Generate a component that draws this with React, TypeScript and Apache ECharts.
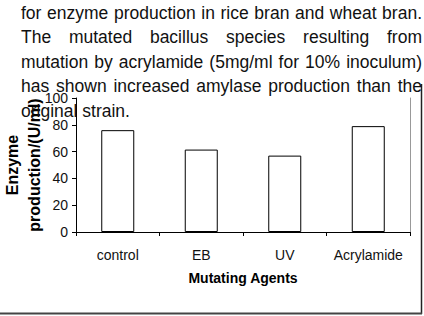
import React, { useEffect, useRef } from "react";
import * as echarts from "echarts";

const paragraphLines = [
  "for enzyme production in rice bran and wheat bran.",
  "The mutated bacillus species resulting from",
  "mutation by acrylamide (5mg/ml for 10% inoculum)",
  "has shown increased amylase production than the",
  "original strain.",
];
const categories = ["control", "EB", "UV", "Acrylamide"];
const enzymeValues = [76, 61.5, 57, 79];
const yMin = 0;
const yMax = 100;
const yInterval = 20;
const xAxisTitle = "Mutating Agents";
const yAxisTitle = "Enzyme\nproduction/(U/ml)";

const FONT = "'Liberation Sans', Arial, Helvetica, sans-serif";

function buildParagraph(): any[] {
  const size = 17.5;
  const left = 21;
  const right = 422;
  const baselines = [18.5, 43, 67.5, 92, 116.5];
  const canvas = document.createElement("canvas");
  const ctx = canvas.getContext("2d")!;
  ctx.font = `${size}px ${FONT}`;
  const els: any[] = [];
  const textEl = (text: string, x: number, y: number) => ({
    type: "text",
    x,
    y,
    z: 10,
    style: {
      text,
      fontSize: size,
      fontFamily: FONT,
      fill: "#111",
      textAlign: "left",
      textVerticalAlign: "middle",
    },
  });
  paragraphLines.forEach((line, i) => {
    const y = baselines[i] - 6;
    const last = i === paragraphLines.length - 1;
    if (last) {
      els.push(textEl(line, left, y));
      return;
    }
    const words = line.split(" ");
    const widths = words.map((w) => ctx.measureText(w).width);
    const total = widths.reduce((a, b) => a + b, 0);
    const gap = (right - left - total) / (words.length - 1);
    let x = left;
    words.forEach((w, j) => {
      els.push(textEl(w, x, y));
      x += widths[j] + gap;
    });
  });
  return els;
}

export default function App() {
  const ref = useRef<HTMLDivElement>(null);
  useEffect(() => {
    if (!ref.current) return;
    const chart = echarts.init(ref.current, null, { renderer: "svg" });
    chart.setOption({
      animation: false,
      backgroundColor: "#ffffff",
      textStyle: { fontFamily: FONT },
      grid: {
        left: 76,
        right: 14,
        top: 98,
        bottom: 84,
        containLabel: false,
        outerBoundsMode: "none",
      },
      xAxis: {
        type: "category",
        data: categories,
        name: xAxisTitle,
        nameLocation: "middle",
        nameGap: 39,
        nameMoveOverlap: false,
        nameTextStyle: { fontSize: 14, fontWeight: "bold", color: "#000", fontFamily: FONT },
        axisLine: { lineStyle: { color: "#000", width: 1 } },
        axisTick: { show: true, length: 4, alignWithLabel: false, lineStyle: { color: "#000" } },
        axisLabel: { fontSize: 14, color: "#111", margin: 16, interval: 0, fontFamily: FONT },
        splitLine: { show: false },
      },
      yAxis: [
        {
          type: "value",
          min: yMin,
          max: yMax,
          interval: yInterval,
          name: yAxisTitle,
          nameLocation: "middle",
          nameRotate: 90,
          nameGap: 31,
          nameMoveOverlap: false,
          nameTextStyle: {
            fontSize: 16,
            fontWeight: "bold",
            color: "#000",
            lineHeight: 22,
            fontFamily: FONT,
          },
          axisLine: { show: true, lineStyle: { color: "#000", width: 1 } },
          axisTick: { show: true, length: 4, lineStyle: { color: "#000" } },
          axisLabel: { fontSize: 14, color: "#111", margin: 8, fontFamily: FONT },
          splitLine: { show: false },
        },
        {
          type: "value",
          min: yMin,
          max: yMax,
          interval: yInterval,
          position: "right",
          axisLine: { show: true, lineStyle: { color: "#999", width: 1 } },
          axisTick: { show: false },
          axisLabel: { show: false },
          splitLine: { show: false },
        },
      ],
      series: [
        {
          type: "bar",
          data: enzymeValues,
          barWidth: 33,
          itemStyle: { color: "#ffffff", borderColor: "#000", borderWidth: 1 },
        },
      ],
      graphic: [
        ...buildParagraph(),
        {
          type: "line",
          shape: { x1: 421.5, y1: 84, x2: 421.5, y2: 314 },
          style: { stroke: "#222", lineWidth: 1.5 },
          z: 5,
        },
        {
          type: "line",
          shape: { x1: 0, y1: 313.5, x2: 422, y2: 313.5 },
          style: { stroke: "#444", lineWidth: 2 },
          z: 5,
        },
      ],
    });
    return () => chart.dispose();
  }, []);
  return (
    <div
      ref={ref}
      style={{ position: "absolute", left: 0, top: 0, width: 424, height: 316 }}
    />
  );
}
